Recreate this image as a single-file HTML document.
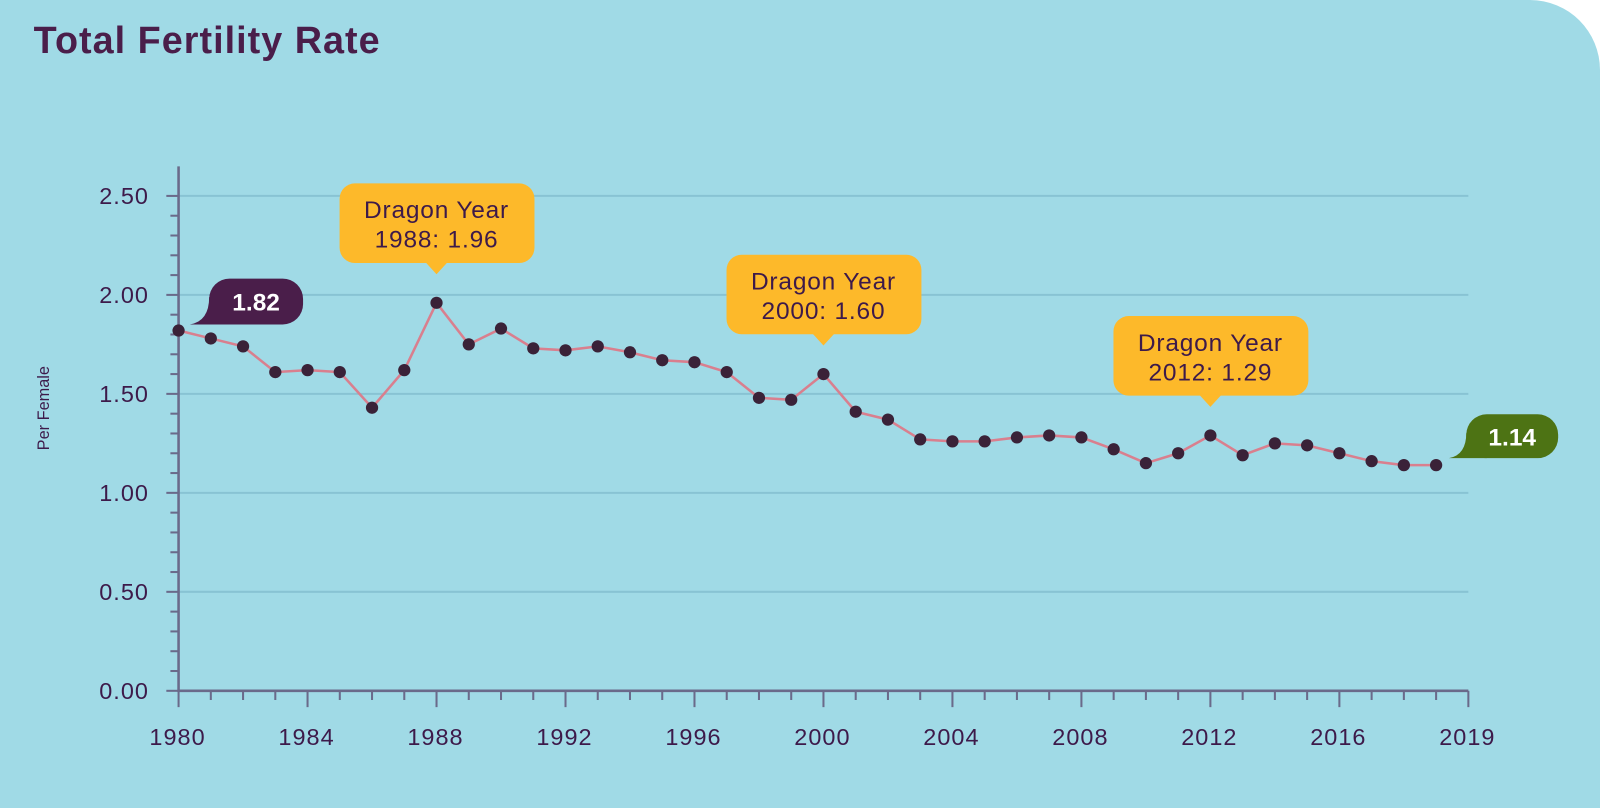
<!DOCTYPE html>
<html><head><meta charset="utf-8">
<style>
html,body{margin:0;padding:0;background:#fff;}
#card{position:absolute;left:0;top:0;width:1600px;height:808px;background:#a0dae6;border-top-right-radius:70px;overflow:hidden;font-family:"Liberation Sans",sans-serif;}
#inner{position:absolute;left:0;top:0;width:1568px;height:792px;transform:scale(1.0204);transform-origin:0 0;}
#title{position:absolute;left:33px;top:19px;font-size:37px;font-weight:bold;color:#4a1e4a;margin:0;letter-spacing:1px;}
svg{position:absolute;left:0;top:0;}
</style></head>
<body>
<div id="card">
<div id="inner">
<h1 id="title">Total Fertility Rate</h1>
<svg id="chart" width="1568" height="792"></svg>
</div>
</div>
<script>
const years = [1980,1981,1982,1983,1984,1985,1986,1987,1988,1989,1990,1991,1992,1993,1994,1995,1996,1997,1998,1999,2000,2001,2002,2003,2004,2005,2006,2007,2008,2009,2010,2011,2012,2013,2014,2015,2016,2017,2018,2019];
const values = [1.82,1.78,1.74,1.61,1.62,1.61,1.43,1.62,1.96,1.75,1.83,1.73,1.72,1.74,1.71,1.67,1.66,1.61,1.48,1.47,1.60,1.41,1.37,1.27,1.26,1.26,1.28,1.29,1.28,1.22,1.15,1.20,1.29,1.19,1.25,1.24,1.20,1.16,1.14,1.14];
const yTicks = [0,0.5,1,1.5,2,2.5];
const yTickLabels = ["0.00","0.50","1.00","1.50","2.00","2.50"];
const xTickYears = [1980,1984,1988,1992,1996,2000,2004,2008,2012,2016,2020];
const xTickLabels = ["1980","1984","1988","1992","1996","2000","2004","2008","2012","2016","2019"];
const dragonYears = [1988,2000,2012];
const dragonValues = [1.96,1.60,1.29];

const NS="http://www.w3.org/2000/svg";
const svg=document.getElementById('chart');
const X=y=>175+(y-1980)*31.6;
const Y=v=>677-v*194;
function mk(t,a,p){const e=document.createElementNS(NS,t);for(const k in a)e.setAttribute(k,a[k]);(p||svg).appendChild(e);return e;}

yTicks.forEach((t,i)=>{
  if(t>0){const g=mk('line',{x1:175,x2:1439,y1:Y(t),y2:Y(t),stroke:'#88c3d3','stroke-width':2});
  
  }
  const tx=mk('text',{x:146,y:Y(t)+8,'text-anchor':'end','font-size':23,fill:'#3d1a4a','font-family':'Liberation Sans, sans-serif','letter-spacing':1});
  tx.textContent=yTickLabels[i];
  
  
});
for(let v=0;v<=2.5001;v+=0.1){
  const major=Math.abs(v*2-Math.round(v*2))<0.01;
  const tk=mk('line',{x1:major?163:167,x2:175,y1:Y(v),y2:Y(v),stroke:'#6a6a8a','stroke-width':2});
  
  
}
const ya=mk('line',{x1:175,x2:175,y1:163,y2:678,stroke:'#6a6a8a','stroke-width':2.5});


const xa=mk('line',{x1:174,x2:1439,y1:677,y2:677,stroke:'#6a6a8a','stroke-width':2.5});


for(let y=1980;y<=2020;y++){
  const major=(y-1980)%4===0;
  const tk=mk('line',{x1:X(y),x2:X(y),y1:677,y2:major?693:686,stroke:'#6a6a8a','stroke-width':2});
  
  
}
xTickYears.forEach((y,i)=>{
  const tx=mk('text',{x:X(y)-1,y:730,'text-anchor':'middle','font-size':23,fill:'#3d1a4a','font-family':'Liberation Sans, sans-serif','letter-spacing':1});
  tx.textContent=xTickLabels[i];
  
  
});
const yt=mk('text',{x:0,y:0,transform:'translate(48,400) rotate(-90)','text-anchor':'middle','font-size':16,fill:'#3d1a4a','font-family':'Liberation Sans, sans-serif'});
yt.textContent='Per Female';



const ln=mk('polyline',{points:years.map((y,i)=>X(y)+','+Y(values[i])).join(' '),fill:'none',stroke:'#d97f8e','stroke-width':2.5});


years.forEach((y,i)=>{
  const c=mk('circle',{cx:X(y),cy:Y(values[i]),r:6,fill:'#3a2238'});
  
  
});

dragonYears.forEach((y,i)=>{
  const cx=X(y), cy=Y(dragonValues[i]);
  const g=mk('g',{});
  
  
  const bot=cy-39, top=bot-78;
  mk('rect',{x:cx-95,y:top,width:191,height:78,rx:15,fill:'#fdb92a'},g);
  mk('path',{d:`M${cx-11} ${bot-1} L${cx} ${bot+11} L${cx+11} ${bot-1} Z`,fill:'#fdb92a'},g);
  const t1=mk('text',{x:cx,y:top+34,'text-anchor':'middle','font-size':24,fill:'#3d1a4a','font-family':'Liberation Sans, sans-serif','letter-spacing':0.8},g);
  t1.textContent='Dragon Year';
  const t2=mk('text',{x:cx,y:top+63,'text-anchor':'middle','font-size':24,fill:'#3d1a4a','font-family':'Liberation Sans, sans-serif','letter-spacing':0.8},g);
  t2.textContent=y+': '+dragonValues[i].toFixed(2);
});

function valueLabel(x,y,w,h,fill,txt,tailX,name){
  const g=mk('g',{});
  
  
  mk('rect',{x:x,y:y,width:w,height:h,rx:20,fill:fill},g);
  mk('path',{d:`M${x} ${y+18} Q${x} ${y+h-3} ${tailX} ${y+h} L${x+20} ${y+h} Z`,fill:fill},g);
  const t=mk('text',{x:x+w/2,y:y+h/2+9,'text-anchor':'middle','font-size':24,'font-weight':'bold',fill:'#fff','font-family':'Liberation Sans, sans-serif'},g);
  t.textContent=txt;
}
valueLabel(205,273,92,45,'#4a1e4a',values[0].toFixed(2),186,'first-value-label');
valueLabel(1437,406,90,43,'#4d7314',values[values.length-1].toFixed(2),1420,'last-value-label');
</script>
</body></html>
